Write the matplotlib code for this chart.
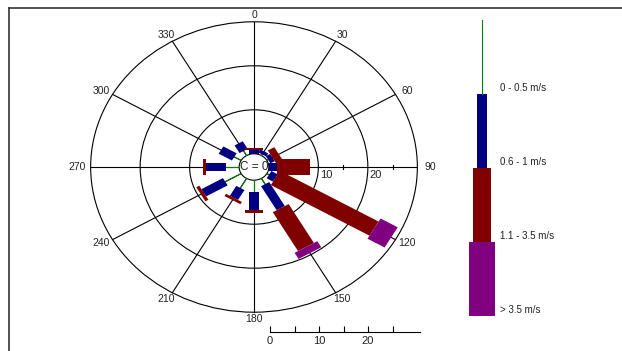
import numpy as np
import matplotlib.pyplot as plt
from matplotlib.patches import Polygon, Ellipse
from matplotlib.lines import Line2D

plt.rcParams['font.family'] = ['Liberation Sans', 'DejaVu Sans']

# wind directions (deg, clockwise from north) and frequency (%) per speed class
dirs = [0, 30, 60, 90, 120, 150, 180, 210, 240, 270, 300, 330]
f_05 = [0.0, 0.3, 0.3, 0.0, 0.5, 1.5, 2.7, 2.5, 3.7, 2.7, 1.6, 1.2]
f_1 = [0.8, 0.8, 1.0, 1.6, 1.5, 6.3, 4.1, 2.6, 5.0, 4.0, 3.1, 2.0]
f_35 = [0.5, 0.0, 1.5, 6.7, 23.0, 10.2, 0.7, 0.6, 0.7, 0.6, 0.0, 0.0]
f_gt = [0.0, 0.0, 0.0, 0.0, 4.0, 1.6, 0.0, 0.0, 0.0, 0.0, 0.0, 0.0]
classes = ['0 - 0.5 m/s', '0.6 - 1 m/s', '1.1 - 3.5 m/s', '> 3.5 m/s']
colors = ['green', '#000080', '#800000', '#800080']
widths = [0.0, 1.9, 3.7, 5.3]
rings = [10, 20, 30]
calm = 0

r0 = 3.0            # radius of the calm circle
rmax = r0 + rings[-1]
txt = '#222222'

fig = plt.figure(figsize=(6.22, 3.51), dpi=100)
W, H = 622, 351

# frame
fig.add_artist(Line2D([9 / W, 9 / W], [0, 1 - 7.5 / H], color='#333333', lw=1.2))
fig.add_artist(Line2D([9 / W, 1], [1 - 7.5 / H, 1 - 7.5 / H], color='#333333', lw=1.2))

# rose axes: centre at (254, 167) px, 4.95 px/unit across, 4.4 px/unit up
cx, cy, sx, sy = 254, 167, 4.95, 4.4
hw, hh = 172, 154
ax = fig.add_axes([(cx - hw) / W, (H - cy - hh) / H, 2 * hw / W, 2 * hh / H])
ax.set_xlim(-hw / sx, hw / sx)
ax.set_ylim(-hh / sy, hh / sy)
ax.axis('off')

# rings and spokes
for rv in rings:
    rr = r0 + rv
    ax.add_patch(Ellipse((0, 0), 2 * rr, 2 * rr, fill=False, ec='black', lw=0.8, zorder=1))
for a in range(0, 360, 30):
    t = np.radians(a)
    ax.plot([0, rmax * np.sin(t)], [0, rmax * np.cos(t)], color='black', lw=0.8, zorder=1)
    lr = rmax + 1.6
    ax.text(lr * np.sin(t) * (1.03 if a % 180 else 1), lr * np.cos(t), str(a),
            ha='center', va='center', fontsize=7.5, color=txt)
# small ticks between rings on the east axis
for rv in [15, 25]:
    ax.plot([r0 + rv, r0 + rv], [-0.45, 0.45], color='black', lw=0.8, zorder=1)
for rv in rings[:-1]:
    ax.text(r0 + rv + 0.4, -0.6, str(rv), ha='left', va='top', fontsize=8, color=txt)

# calm circle
ax.add_patch(Ellipse((0, 0), 2 * r0, 2 * r0, fc='white', ec='black', lw=0.8, zorder=2))
ax.text(0, 0, 'C = %d' % calm, ha='center', va='center', fontsize=8.5, color=txt, zorder=6)

# stacked bars
freqs = np.array([f_05, f_1, f_35, f_gt])
for i, a in enumerate(dirs):
    t = np.radians(a)
    u = np.array([np.sin(t), np.cos(t)])
    v = np.array([np.cos(t), -np.sin(t)])
    r1 = r0
    for k in range(4):
        r2 = r1 + freqs[k, i]
        if freqs[k, i] > 0:
            if widths[k] == 0:
                ax.plot([r1 * u[0], r2 * u[0]], [r1 * u[1], r2 * u[1]],
                        color=colors[k], lw=0.8, zorder=3)
            else:
                w = widths[k] / 2
                pts = [r1 * u - w * v, r2 * u - w * v, r2 * u + w * v, r1 * u + w * v]
                ax.add_patch(Polygon(pts, closed=True, fc=colors[k], ec='none', zorder=3 + k))
        r1 = r2

# legend column
lg = fig.add_axes([460 / W, (H - 316) / H, 44 / W, 296 / H])
lg.set_xlim(-22, 22)
lg.set_ylim(0, 4)
lg.axis('off')
lw_px = [0, 9.5, 18, 26]
for k in range(4):
    top = 4 - k
    if lw_px[k] == 0:
        lg.plot([0, 0], [top - 1, top], color=colors[k], lw=0.8)
    else:
        lg.add_patch(plt.Rectangle((-lw_px[k] / 2, top - 1), lw_px[k], 1, fc=colors[k], ec='none'))
    lg.text(18, top - 1 + 0.02, classes[k], ha='left', va='bottom', fontsize=7, color=txt)

# scale bar
sb = fig.add_axes([270 / W, (H - 332) / H, 150 / W, 10 / H])
sb.set_xlim(0, 150 / 4.9)
sb.set_ylim(0, 1)
for s in ['top', 'left', 'right']:
    sb.spines[s].set_visible(False)
sb.spines['bottom'].set_linewidth(0.8)
sb.set_yticks([])
sb.set_xticks([0, 10, 20])
sb.set_xticks([5, 15, 25], minor=True)
sb.tick_params(axis='x', which='both', direction='in', length=4, width=0.8,
               labelsize=8, labelcolor=txt, pad=3)
sb.patch.set_visible(False)

fig.savefig('out.png', dpi=100)
